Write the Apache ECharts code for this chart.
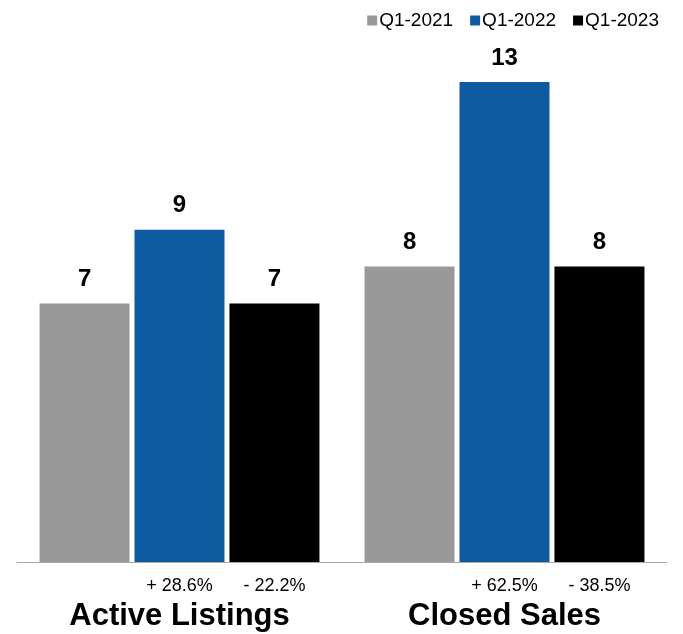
<!DOCTYPE html>
<html>
<head>
<meta charset="utf-8">
<script src="https://cdn.jsdelivr.net/npm/echarts@6/dist/echarts.min.js"></script>
<style>
  html, body { margin: 0; padding: 0; background: #fff; }
  #chart { width: 683px; height: 634px; }
</style>
</head>
<body>
<div id="chart"></div>
<script>
// Categories and yearly values
const categories = ['Active Listings', 'Closed Sales'];
const seriesNames = ['Q1-2021', 'Q1-2022', 'Q1-2023'];
const q1_2021 = [7, 8];
const q1_2022 = [9, 13];
const q1_2023 = [7, 8];
// Year-over-year change shown beneath the bars
const change2022 = ['+ 28.6%', '+ 62.5%'];
const change2023 = ['- 22.2%', '- 38.5%'];

const colors = ['#999999', '#0f5ba1', '#000000'];
const font = 'Liberation Sans, Arial, Helvetica, sans-serif';

const values = [q1_2021, q1_2022, q1_2023];
const changes = [null, change2022, change2023];

const chart = echarts.init(document.getElementById('chart'));

const mainSeries = values.map((data, i) => ({
  name: seriesNames[i],
  type: 'bar',
  xAxisIndex: 0,
  data: data,
  barWidth: 90,
  barGap: '5.5%',
  itemStyle: { color: colors[i] },
  label: {
    show: true,
    position: 'top',
    distance: 12,
    fontFamily: font,
    fontSize: 24,
    fontWeight: 'bold',
    color: '#000'
  },
  emphasis: { disabled: true }
}));

// Transparent twin bars on a hidden axis carry the change labels
const changeSeries = values.map((data, i) => ({
  name: 'change-' + seriesNames[i],
  type: 'bar',
  xAxisIndex: 1,
  data: data,
  barWidth: 90,
  barGap: '5.5%',
  itemStyle: { color: 'rgba(0,0,0,0)' },
  label: {
    show: changes[i] !== null,
    position: 'bottom',
    distance: 15,
    fontFamily: font,
    fontSize: 18,
    color: '#000',
    formatter: p => changes[i] ? changes[i][p.dataIndex] : ''
  },
  silent: true,
  emphasis: { disabled: true }
}));

chart.setOption({
  animation: false,
  backgroundColor: '#ffffff',
  textStyle: { fontFamily: font },
  legend: {
    data: seriesNames,
    right: 19,
    top: 6,
    itemWidth: 10,
    itemHeight: 10,
    itemGap: 17,
    icon: 'rect',
    textStyle: { fontFamily: font, fontSize: 19, color: '#000', padding: [0, 0, 0, -3] }
  },
  grid: { left: 17, right: 16, top: 82, bottom: 72, containLabel: false },
  xAxis: [
    {
      type: 'category',
      data: categories,
      axisLine: { show: true, lineStyle: { color: '#aaaaaa', width: 1 } },
      axisTick: { show: false },
      axisLabel: {
        margin: 39,
        fontFamily: font,
        fontSize: 31,
        fontWeight: 'bold',
        color: '#000',
        lineHeight: 31
      }
    },
    {
      type: 'category',
      data: categories,
      show: false
    }
  ],
  yAxis: {
    type: 'value',
    min: 0,
    max: 13,
    show: false,
    splitLine: { show: false }
  },
  series: mainSeries.concat(changeSeries)
});
</script>
</body>
</html>
